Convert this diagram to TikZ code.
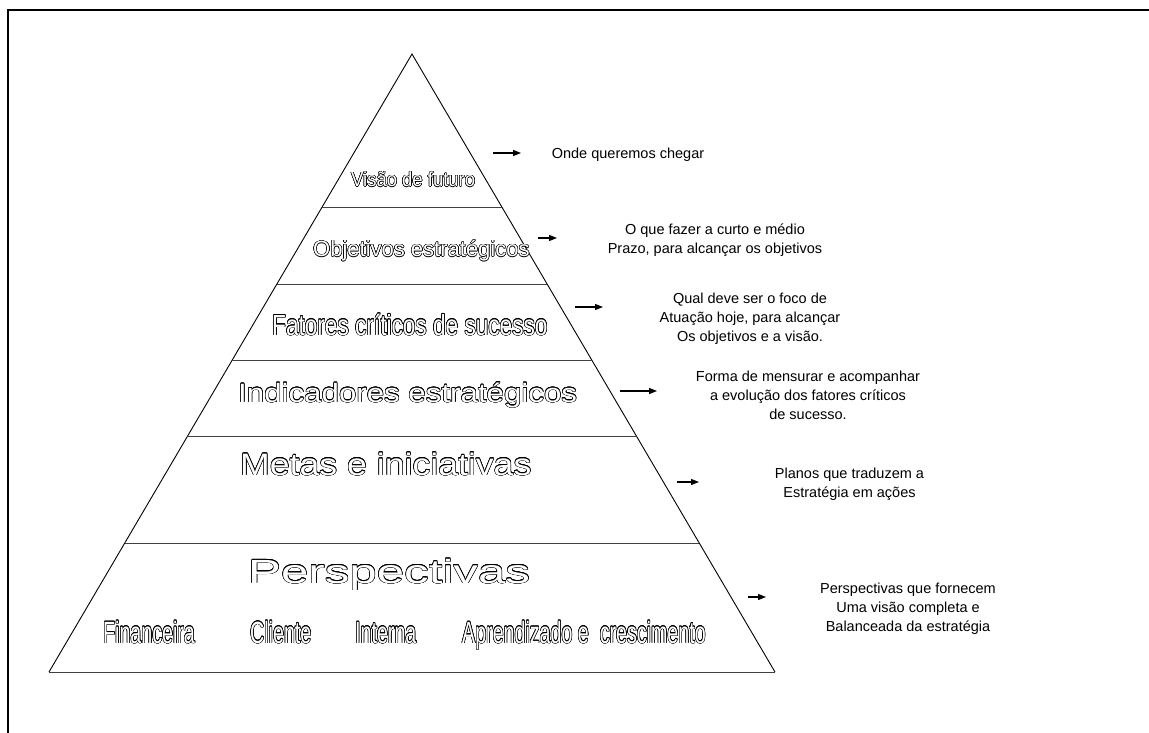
\documentclass[tikz,border=0pt]{standalone}
\usepackage{fontspec}
\setmainfont{Liberation Sans}
\newfontfamily\fsNarrow[FakeStretch=0.64]{Liberation Sans}
\newfontfamily\fsCond[FakeStretch=0.78]{Liberation Sans}
\newfontfamily\fsSemi[FakeStretch=0.91]{Liberation Sans}
\newfontfamily\fsWideA[FakeStretch=1.18]{Liberation Sans}
\newfontfamily\fsWideB[FakeStretch=1.15]{Liberation Sans}
\newfontfamily\fsWideC[FakeStretch=1.47]{Liberation Sans}
\usepackage{contour}
\contourlength{0.5pt}
\usetikzlibrary{calc,arrows.meta}

% white letters with a thin black outline
\newcommand\hollow[1]{\textcolor{white}{\contour{black}{#1}}}

\tikzset{
  frameline/.style={line width=2pt, black},
  edgeline/.style={line width=0.9pt, black},
  levelline/.style={line width=0.9pt, black!75},
  layertext/.style={inner sep=0pt, anchor=base west},
  notetext/.style={inner sep=0pt, align=center, font=\fontsize{14.5}{19}\selectfont},
  pointer/.style={line width=1.2pt, -{Triangle[length=8pt,width=6pt]}},
}

\begin{document}
\begin{tikzpicture}[x=1pt, y=-1pt]
\useasboundingbox (0,0) rectangle (1149,733);

% outer frame (left and top sides)
\coordinate (fbl) at (8,733);
\coordinate (ftl) at (8,10.5);
\coordinate (ftr) at (1149,10.5);
\draw[frameline] (fbl) -- (ftl) -- (ftr);

% pyramid
\coordinate (apex) at (412,54);
\coordinate (bl) at (49,672);
\coordinate (br) at (775,672);
\draw[edgeline] (bl) -- (apex) -- (br);
\draw[levelline] (bl) -- (br);

\foreach \t/\n in {0.2476/1, 0.3722/2, 0.4951/3, 0.6189/4, 0.7913/5}{
  \coordinate (L\n) at ($(apex)!\t!(bl)$);
  \coordinate (R\n) at ($(apex)!\t!(br)$);
  \draw[levelline] (L\n) -- (R\n);
}

% layer titles
\node[layertext] (visao) at (351,186.5)
  {\fsSemi\fontsize{20.3}{22}\selectfont\hollow{Visão de futuro}};
\node[layertext] (objetivos) at (313,256.5)
  {\fontsize{22}{24}\selectfont\hollow{Objetivos estratégicos}};
\node[layertext] (fatores) at (272,335)
  {\fsCond\fontsize{29}{31}\selectfont\hollow{Fatores críticos de sucesso}};
\node[layertext] (indicadores) at (238,402)
  {\fsWideA\fontsize{26.5}{28}\selectfont\hollow{Indicadores estratégicos}};
\node[layertext] (metas) at (240,475)
  {\fsWideB\fontsize{31}{33}\selectfont\hollow{Metas e iniciativas}};
\node[layertext] (persp) at (248,583)
  {\fsWideC\fontsize{33.5}{35}\selectfont\hollow{Perspectivas}};
\node[layertext] (fin) at (103,643)
  {\fsNarrow\fontsize{30.7}{32}\selectfont\hollow{Financeira}};
\node[layertext] (cli) at (250,643)
  {\fsNarrow\fontsize{30.7}{32}\selectfont\hollow{Cliente}};
\node[layertext] (int) at (355,643)
  {\fsNarrow\fontsize{30.7}{32}\selectfont\hollow{Interna}};
\node[layertext] (apr) at (462,643)
  {\fsNarrow\fontsize{30.7}{32}\selectfont\hollow{Aprendizado e\ \ crescimento}};

% notes on the right
\node[notetext] (n1) at (628,155) {Onde queremos chegar};
\node[notetext] (n2) at (715,240.5) {O que fazer a curto e médio\\Prazo, para alcançar os objetivos};
\node[notetext] (n3) at (750,319) {Qual deve ser o foco de\\Atuação hoje, para alcançar\\Os objetivos e a visão.};
\node[notetext] (n4) at (808,395) {Forma de mensurar e acompanhar\\a evolução dos fatores críticos\\de sucesso.};
\node[notetext] (n5) at (849.5,484.5) {Planos que traduzem a\\Estratégia em ações};
\node[notetext] (n6) at (908,609) {Perspectivas que fornecem\\Uma visão completa e\\Balanceada da estratégia};

% pointers
\coordinate (a1s) at (493,153);  \coordinate (a1e) at (521,153);
\coordinate (a2s) at (538,238);  \coordinate (a2e) at (557,238);
\coordinate (a3s) at (575,307);  \coordinate (a3e) at (603,307);
\coordinate (a4s) at (620,391);  \coordinate (a4e) at (657,391);
\coordinate (a5s) at (677,482);  \coordinate (a5e) at (699,482);
\coordinate (a6s) at (748,597);  \coordinate (a6e) at (766,597);
\foreach \k in {1,...,6}{
  \draw[pointer] (a\k s) -- (a\k e);
}
\end{tikzpicture}
\end{document}
